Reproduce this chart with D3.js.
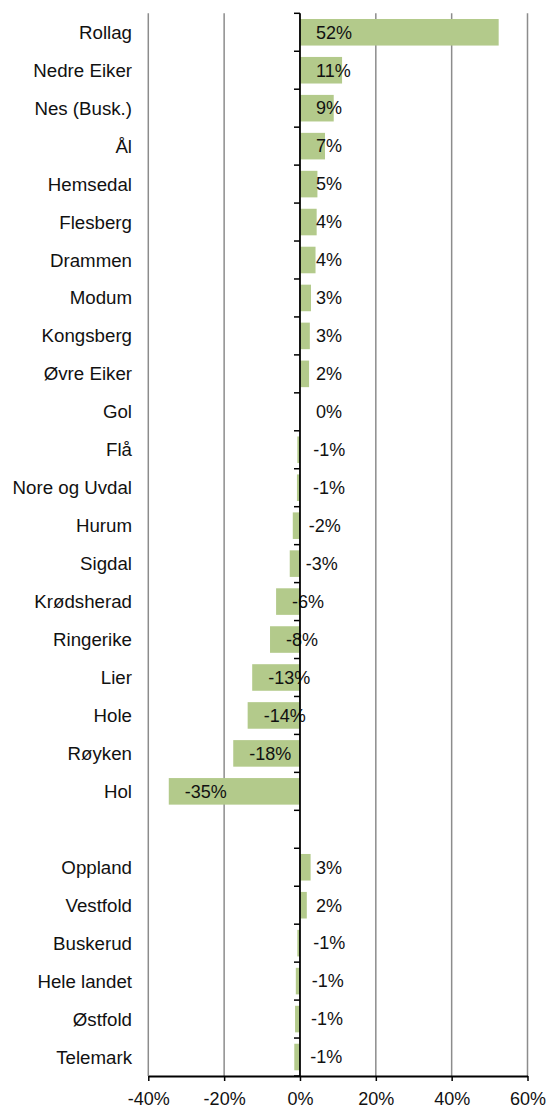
<!DOCTYPE html>
<html>
<head>
<meta charset="utf-8">
<script src="https://cdn.jsdelivr.net/npm/d3@7"></script>
<style>
  html, body { margin: 0; padding: 0; background: #fff; }
  svg { display: block; }
  text { font-family: "Liberation Sans", Arial, sans-serif; font-size: 18px; fill: #111; }
  .cat { font-size: 18.7px; }
</style>
</head>
<body>
<svg id="chart" width="547" height="1108"></svg>
<script>
// Municipalities in Buskerud, percentage change
const municipalities = [
  "Rollag", "Nedre Eiker", "Nes (Busk.)", "Ål", "Hemsedal", "Flesberg", "Drammen",
  "Modum", "Kongsberg", "Øvre Eiker", "Gol", "Flå", "Nore og Uvdal", "Hurum",
  "Sigdal", "Krødsherad", "Ringerike", "Lier", "Hole", "Røyken", "Hol"
];
const municipalityValues = [
  52.4, 11.1, 8.9, 6.6, 4.6, 4.4, 4.1,
  2.9, 2.6, 2.4, 0, -0.7, -0.8, -1.9,
  -2.7, -6.3, -7.9, -12.6, -13.8, -17.6, -34.6
];

// Counties and the whole country
const regions = ["Oppland", "Vestfold", "Buskerud", "Hele landet", "Østfold", "Telemark"];
const regionValues = [2.8, 1.8, -0.7, -1.1, -1.3, -1.5];

// x axis ticks (percent)
const xTicks = [-40, -20, 0, 20, 40, 60];

const rows = [
  ...municipalities.map((name, i) => ({ name, value: municipalityValues[i] })),
  { name: "", value: null },
  ...regions.map((name, i) => ({ name, value: regionValues[i] }))
].map((r, i) => ({ ...r, i }));

const pct = v => `${Math.round(v)}%`;

const svg = d3.select("#chart");
const plotLeft = 148.3, plotRight = 527.5, plotTop = 13.3, plotBottom = 1076;

const x = d3.scaleLinear().domain([-40, 60]).range([plotLeft, plotRight]);
const y = d3.scaleBand()
  .domain(d3.range(rows.length))
  .range([plotTop, plotBottom])
  .paddingInner(0.3)
  .paddingOuter(0.15);

// vertical gridlines
svg.append("g")
  .selectAll("line")
  .data(xTicks.filter(t => t !== 0))
  .join("line")
  .attr("x1", d => x(d)).attr("x2", d => x(d))
  .attr("y1", plotTop).attr("y2", plotBottom)
  .attr("stroke", "#8c8c8c")
  .attr("stroke-width", 1.5);

// bars
svg.append("g")
  .selectAll("rect")
  .data(rows.filter(r => r.value !== null && r.value !== 0))
  .join("rect")
  .attr("x", d => x(Math.min(0, d.value)))
  .attr("width", d => Math.abs(x(d.value) - x(0)))
  .attr("y", d => y(d.i))
  .attr("height", y.bandwidth())
  .attr("fill", "#b3ca8b");

// value labels, left-aligned just past the bar's left edge
svg.append("g")
  .selectAll("text")
  .data(rows.filter(r => r.value !== null))
  .join("text")
  .attr("x", d => x(Math.min(0, d.value)) + 16)
  .attr("y", d => y(d.i) + y.bandwidth() / 2)
  .attr("dy", "0.35em")
  .attr("text-anchor", "start")
  .text(d => pct(d.value));

// category labels
svg.append("g")
  .selectAll("text")
  .data(rows)
  .join("text")
  .attr("class", "cat")
  .attr("x", 132)
  .attr("y", d => y(d.i) + y.bandwidth() / 2)
  .attr("dy", "0.35em")
  .attr("text-anchor", "end")
  .text(d => d.name);

// vertical axis at zero with ticks between categories
const step = y.step();
const yAxis = svg.append("g");
yAxis.selectAll("line.tick")
  .data(d3.range(rows.length + 1))
  .join("line")
  .attr("class", "tick")
  .attr("x1", x(0) - 6).attr("x2", x(0))
  .attr("y1", k => plotTop + k * step).attr("y2", k => plotTop + k * step)
  .attr("stroke", "#000").attr("stroke-width", 1.5);
yAxis.append("line")
  .attr("x1", x(0)).attr("x2", x(0))
  .attr("y1", plotTop).attr("y2", plotBottom)
  .attr("stroke", "#000").attr("stroke-width", 1.8);

// horizontal axis
const xAxis = svg.append("g").attr("transform", `translate(0,${plotBottom})`)
  .call(d3.axisBottom(x).tickValues(xTicks).tickSize(5).tickSizeOuter(0).tickFormat(pct));
xAxis.select(".domain").attr("stroke", "#000").attr("stroke-width", 1.8);
xAxis.selectAll(".tick line").attr("stroke", "#000").attr("stroke-width", 1.5);
xAxis.selectAll(".tick text")
  .attr("font-family", "Liberation Sans, Arial, sans-serif")
  .attr("font-size", 18)
  .attr("fill", "#111")
  .attr("y", 16)
  .attr("dy", "0.71em");
</script>
</body>
</html>
